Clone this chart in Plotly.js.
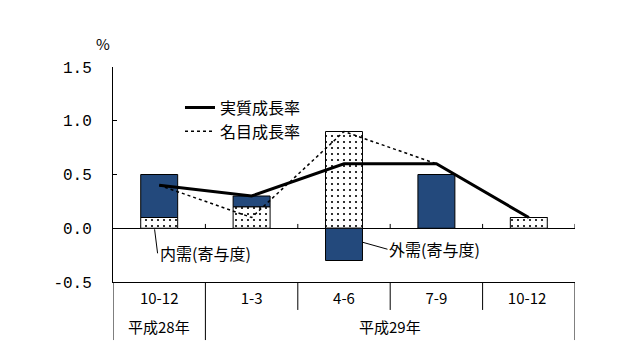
<!DOCTYPE html>
<html>
<head>
<meta charset="utf-8">
<script src="https://cdn.plot.ly/plotly-3.0.1.min.js"></script>
<style>html,body{margin:0;padding:0;background:#fff;}#chart{width:634px;height:353px;}</style>
</head>
<body>
<div id="chart"></div>
<script>
var quarters = ["10-12", "1-3", "4-6", "7-9", "10-12 "];
var years = ["平成28年", "平成29年"];
var domestic = [0.1, 0.2, 0.9, 0.0, 0.1];
var external = [0.4, 0.1, -0.3, 0.5, 0.0];
var realGrowth = [0.4, 0.3, 0.6, 0.6, 0.1];
var nominalGrowth = [0.4, 0.1, 0.9, 0.6, 0.1];
var yTicks = [-0.5, 0.0, 0.5, 1.0, 1.5];
var yTickText = ["-0.5", "0.0", "0.5", "1.0", "1.5"];

var FONT = "'Noto Sans CJK JP', 'Noto Sans', sans-serif";
var MONO = "'Liberation Mono', 'DejaVu Sans Mono', monospace";

var traces = [
  {type: "bar", x: quarters, y: domestic, name: "内需(寄与度)", showlegend: false, width: 0.4,
   marker: {color: "#ffffff", line: {color: "#000", width: 1},
            pattern: {shape: ".", fgcolor: "#000", bgcolor: "#fff", size: 6, solidity: 0.1}}},
  {type: "bar", x: quarters, y: external, name: "外需(寄与度)", showlegend: false, width: 0.4,
   marker: {color: "#23497C", line: {color: "#000", width: 1}}},
  {type: "scatter", mode: "lines", x: quarters, y: realGrowth, name: "実質成長率",
   line: {color: "#000", width: 3}},
  {type: "scatter", mode: "lines", x: quarters, y: nominalGrowth, name: "名目成長率",
   line: {color: "#000", width: 1.5, dash: "dot"}}
];

var shapes = [];
var bounds = [-0.5, 0.5, 1.5, 2.5, 3.5, 4.5];
bounds.forEach(function (b, i) {
  var long = (i === 0 || i === 1 || i === bounds.length - 1);
  shapes.push({type: "line", xref: "x", yref: "paper", x0: b, x1: b, y0: 0, y1: long ? -0.27 : -0.13,
               line: {color: "#000", width: 1}});
  if (i > 0) {
    shapes.push({type: "line", xref: "x", yref: "y", x0: b, x1: b, y0: 0, y1: 0.04,
                 line: {color: "#000", width: 1}});
  }
});

var annotations = [
  {text: "%", xref: "paper", yref: "paper", x: -0.022, y: 1.11, showarrow: false,
   xanchor: "center", yanchor: "middle",
   font: {family: FONT, size: 15, color: "#000"}},
  {text: years[0], xref: "x", yref: "paper", x: 0, y: -0.205, showarrow: false,
   xanchor: "center", yanchor: "middle",
   font: {family: FONT, size: 15, color: "#000"}},
  {text: years[1], xref: "x", yref: "paper", x: 2.5, y: -0.205, showarrow: false,
   xanchor: "center", yanchor: "middle",
   font: {family: FONT, size: 15, color: "#000"}},
  {text: "内需(寄与度)", xref: "x", yref: "y", x: -0.05, y: -0.01, ax: 3, ay: 24,
   showarrow: true, arrowhead: 0, arrowwidth: 1, arrowcolor: "#000",
   xanchor: "left", yanchor: "middle", standoff: 0,
   font: {family: FONT, size: 16, color: "#000"}},
  {text: "外需(寄与度)", xref: "x", yref: "y", x: 2.2, y: -0.13, ax: 25, ay: 7,
   showarrow: true, arrowhead: 0, arrowwidth: 1, arrowcolor: "#000",
   xanchor: "left", yanchor: "middle",
   font: {family: FONT, size: 16, color: "#000"}}
];

var layout = {
  width: 634, height: 353,
  margin: {l: 113, r: 59, t: 67, b: 71},
  paper_bgcolor: "#fff", plot_bgcolor: "#fff",
  barmode: "relative",
  font: {family: FONT, size: 16, color: "#000"},
  xaxis: {type: "category", range: [-0.5, 4.5], showline: true, linecolor: "#000", linewidth: 1,
          ticks: "", showgrid: false, zeroline: false, fixedrange: true,
          ticklabelstandoff: 3,
          tickfont: {family: FONT, size: 15, color: "#000"}},
  yaxis: {range: [-0.5, 1.5], tickvals: yTicks, ticktext: yTickText, showline: true,
          linecolor: "#000", linewidth: 1, ticks: "inside", ticklen: 4, tickcolor: "#000",
          showgrid: false, zeroline: true, zerolinecolor: "#000", zerolinewidth: 1,
          ticklabelstandoff: 17,
          tickfont: {family: MONO, size: 16, color: "#000"}},
  legend: {x: 0.145, y: 0.89, xanchor: "left", yanchor: "top", bgcolor: "rgba(0,0,0,0)",
           font: {family: FONT, size: 16, color: "#000"}, tracegroupgap: 0},
  shapes: shapes,
  annotations: annotations,
  showlegend: true
};

Plotly.newPlot("chart", traces, layout, {displayModeBar: false, staticPlot: true});
</script>
</body>
</html>
